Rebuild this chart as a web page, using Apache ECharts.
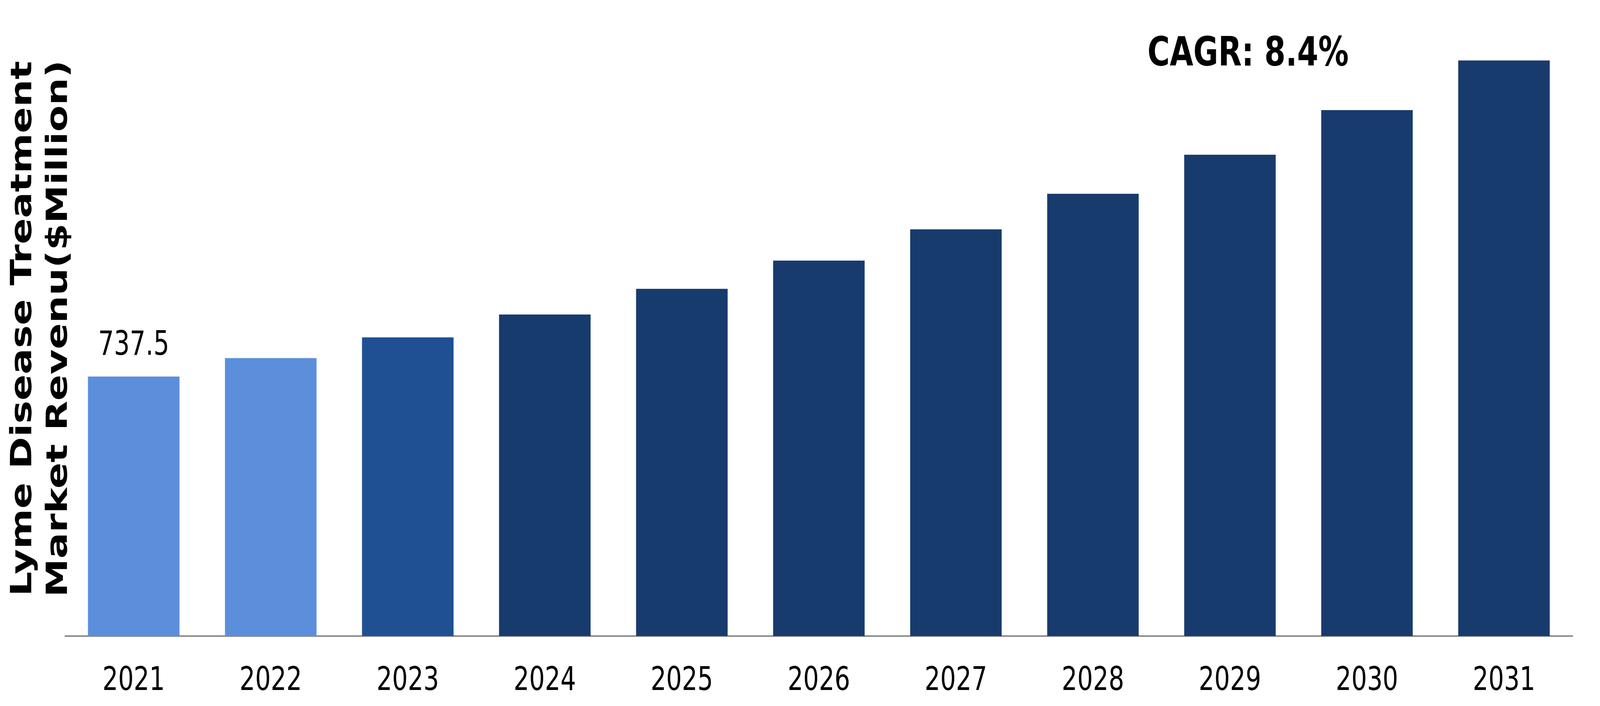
<!DOCTYPE html>
<html>
<head>
<meta charset="utf-8">
<script src="https://cdn.jsdelivr.net/npm/echarts@6/dist/echarts.min.js"></script>
<style>
html,body{margin:0;padding:0;background:#fff;overflow:hidden;}
#chart{width:5473px;height:1807px;transform-origin:0 0;}
</style>
</head>
<body>
<div id="chart"></div>
<script>
const categories = ['2021','2022','2023','2024','2025','2026','2027','2028','2029','2030','2031'];
const revenue = [737.5, 790, 849, 914, 987, 1067, 1156, 1257, 1368, 1495, 1636];
const barColors = ['#5B8FDB','#5B8FDB','#1F5094','#183B6E','#183B6E','#183B6E','#183B6E','#183B6E','#183B6E','#183B6E','#183B6E'];
const labelledIndex = [0];
const yTitle = 'Lyme Disease Treatment\nMarket Revenu($Million)';
const cagrText = 'CAGR: 8.4%';

const FONT = 'DejaVu Sans';
const W = 5473, H = 1807;
const el = document.getElementById('chart');
const sx = Math.min(1, window.innerWidth / W);
const sy = Math.min(1, window.innerHeight / H);
if (sx < 1 || sy < 1) el.style.transform = 'scale(' + sx + ',' + sy + ')';

const chart = echarts.init(el, null, { width: W, height: H });

const seriesData = revenue.map((v, i) => ({
  value: v,
  itemStyle: { color: barColors[i] },
  label: labelledIndex.includes(i) ? {
    show: true, position: 'top', distance: 35,
    fontFamily: FONT, fontSize: 85, lineHeight: 85, color: '#000',
    formatter: '{c}'
  } : { show: false }
}));

chart.setOption({
  animation: false,
  backgroundColor: '#fff',
  grid: { left: 223, right: 94, top: 7, bottom: 179, containLabel: false },
  xAxis: {
    type: 'category',
    data: categories,
    axisLine: { show: true, lineStyle: { color: '#898989', width: 4 } },
    axisTick: { show: false },
    axisLabel: { fontFamily: FONT, fontSize: 84, lineHeight: 84, color: '#000', margin: 74 }
  },
  yAxis: {
    type: 'value', min: 0, max: 1800,
    show: false,
    splitLine: { show: false }
  },
  series: [{
    type: 'bar',
    data: seriesData,
    barWidth: '66.8%'
  }],
  graphic: [
    {
      type: 'text',
      x: 142, y: 841,
      rotation: Math.PI / 2,
      style: {
        text: yTitle,
        fontFamily: FONT, fontWeight: 'bold', fontSize: 99, lineHeight: 122,
        fill: '#000', align: 'center', verticalAlign: 'middle'
      }
    },
    {
      type: 'text',
      x: 3925, y: 141,
      style: {
        text: cagrText,
        fontFamily: FONT, fontWeight: 'bold', fontSize: 104,
        fill: '#000', align: 'left', verticalAlign: 'middle'
      }
    }
  ]
});
</script>
</body>
</html>
